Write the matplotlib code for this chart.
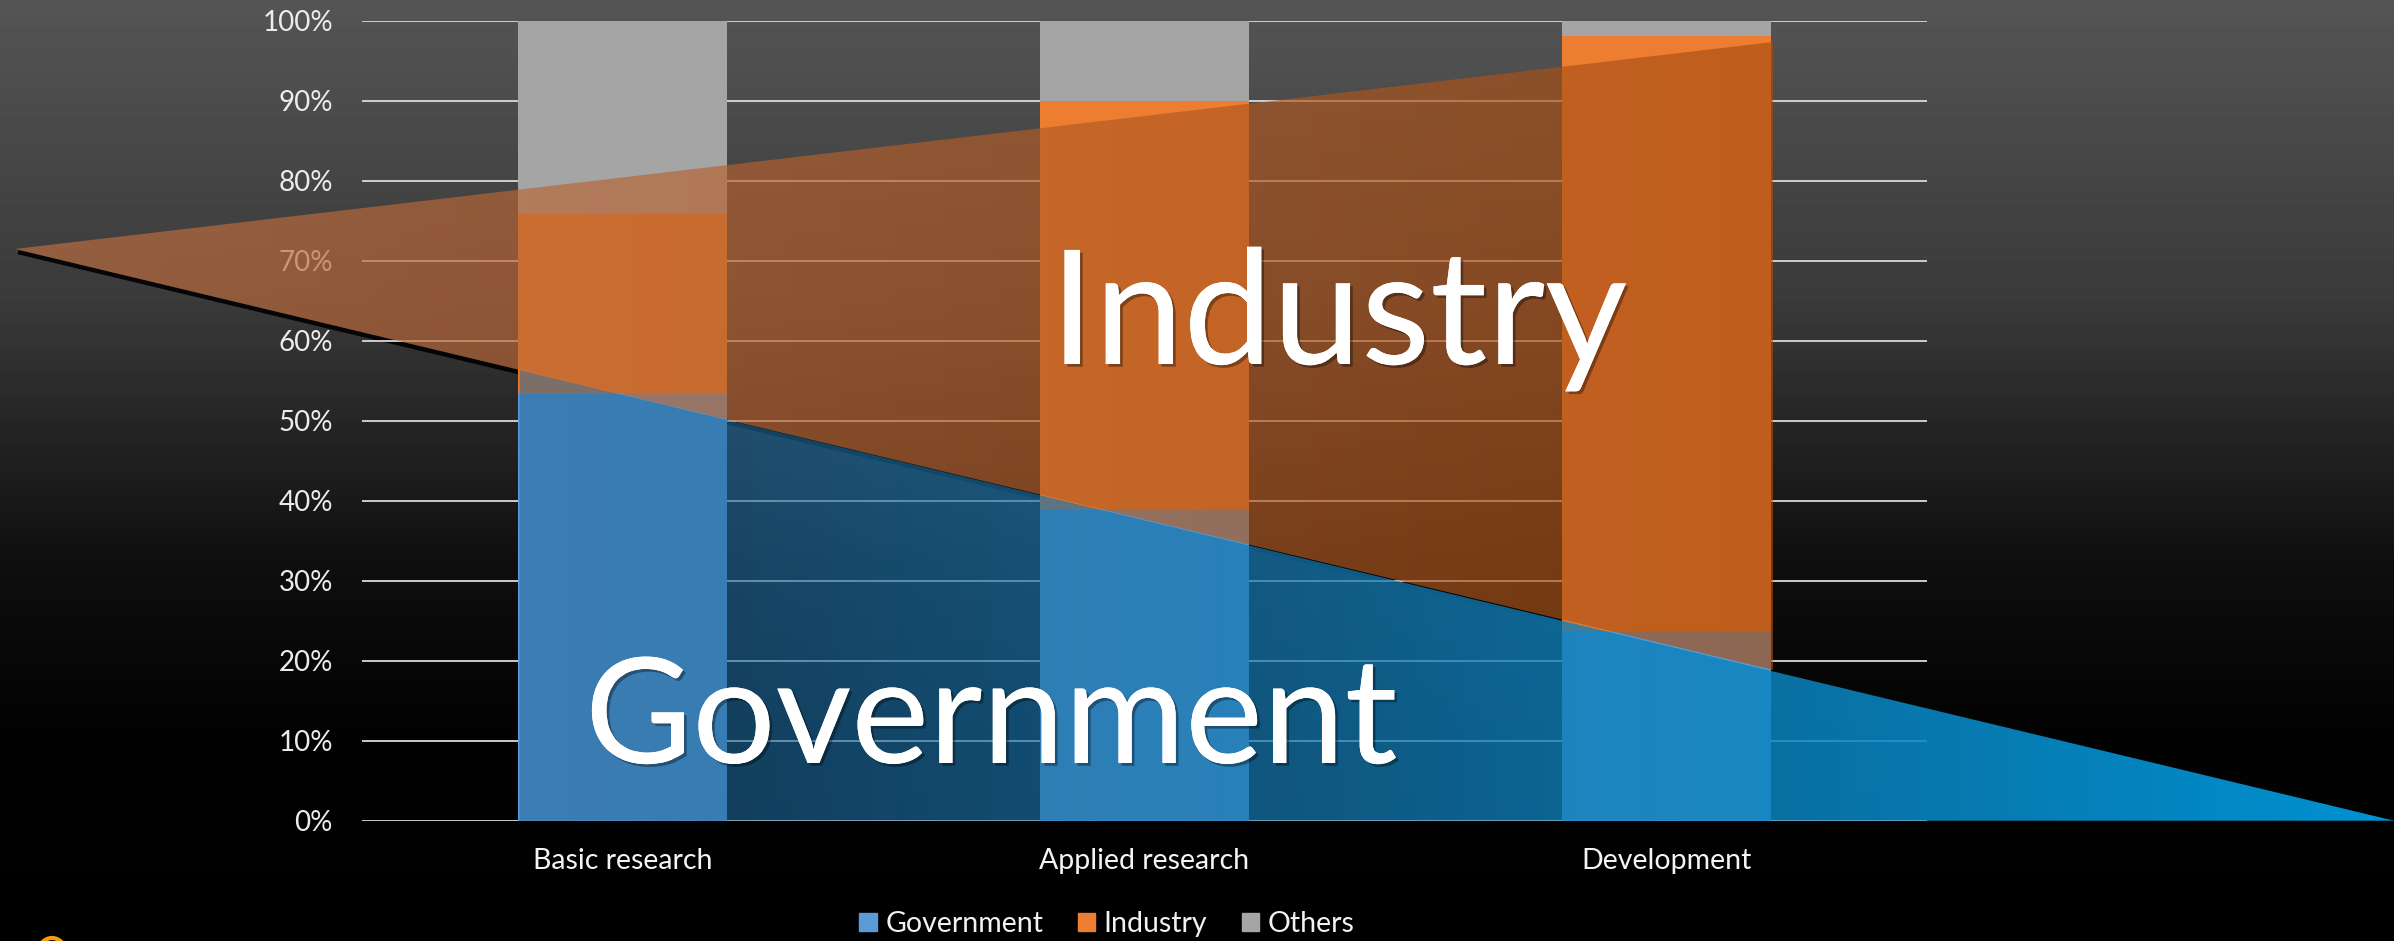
import numpy as np
import matplotlib
matplotlib.use('Agg')
import matplotlib.pyplot as plt
from matplotlib.patches import Rectangle, Circle
import matplotlib.patheffects as pe

# ---------------- data ----------------
categories = ['Basic research', 'Applied research', 'Development']
government = [53.3, 38.8, 23.7]
industry = [22.5, 51.2, 74.4]
others = [24.2, 10.0, 1.9]
series_names = ['Government', 'Industry', 'Others']
ytick_values = [0, 10, 20, 30, 40, 50, 60, 70, 80, 90, 100]
ytick_labels = ['0%', '10%', '20%', '30%', '40%', '50%', '60%', '70%', '80%', '90%', '100%']
overlay_words = ['Industry', 'Government']

# ---------------- style ----------------
plt.rcParams['font.family'] = ['Lato', 'DejaVu Sans']
C_GOV, C_IND, C_OTH = '#5B9BD5', '#ED7D31', '#A5A5A5'

W, H = 2394, 941
fig = plt.figure(figsize=(W / 100, H / 100), dpi=100, facecolor='black')

# background gradient (pixel coordinates)
bgax = fig.add_axes([0, 0, 1, 1], zorder=0)
bgax.set_xlim(0, W); bgax.set_ylim(H, 0); bgax.axis('off')
rows = np.arange(H)
v = np.interp(rows, [0, 300, 560, 720, H], [85, 58, 15, 3, 0]) / 255.0
bg = np.repeat(v[:, None], 4, axis=1)
bgax.imshow(bg, extent=[0, W, H, 0], cmap='gray', vmin=0, vmax=1, aspect='auto', zorder=0)
# drop shadow under the orange wedge (behind the bars)
bgax.plot([18, 1773], [252, 673], color='black', lw=3.2, alpha=0.9, zorder=2, solid_capstyle='butt')
# small logo fragment bottom-left
bgax.add_patch(Circle((52, 951), 13, fill=False, edgecolor='#F39C12', lw=3, zorder=3))

# main chart axes
y0 = 820.7
ax = fig.add_axes([362 / W, (H - y0) / H, (1927 - 362) / W, 800 / H], zorder=1)
ax.patch.set_alpha(0)
x = np.arange(len(categories))
gov = np.array(government); ind = np.array(industry); oth = np.array(others)
ax.bar(x, gov, 0.4, color=C_GOV, zorder=3, label=series_names[0])
ax.bar(x, ind, 0.4, bottom=gov, color=C_IND, zorder=3, label=series_names[1])
ax.bar(x, oth, 0.4, bottom=gov + ind, color=C_OTH, zorder=3, label=series_names[2])
ax.set_xlim(-0.5, 2.5); ax.set_ylim(0, 100)
ax.set_yticks(ytick_values); ax.set_yticklabels(ytick_labels)
ax.set_xticks(x); ax.set_xticklabels(categories)
ax.yaxis.grid(True, color='#d9d9d9', lw=1.3, zorder=0)
ax.set_axisbelow(True)
for s in ax.spines.values():
    s.set_visible(False)
ax.tick_params(axis='y', length=0, pad=21, labelsize=20, labelcolor='#ececec')
ax.tick_params(axis='x', length=0, pad=20, labelsize=20.5, labelcolor='#f4f4f4')

# overlay wedges (decorative, pixel coordinates)
ov = fig.add_axes([0, 0, 1, 1], zorder=2)
ov.set_xlim(0, W); ov.set_ylim(H, 0); ov.axis('off'); ov.patch.set_alpha(0)
yy, xx = np.mgrid[0:H, 0:W].astype(float) + 0.5

def tri_cov(pts):
    pts = np.asarray(pts, float)
    a, b, c = pts
    s = np.sign((b[0] - a[0]) * (c[1] - a[1]) - (b[1] - a[1]) * (c[0] - a[0]))
    cov = np.ones_like(xx)
    for i in range(3):
        p, q = pts[i], pts[(i + 1) % 3]
        dx, dy = q - p
        d = s * (dx * (yy - p[1]) - dy * (xx - p[0])) / np.hypot(dx, dy)
        cov = np.minimum(cov, np.clip(d + 0.5, 0, 1))
    return cov

cov_o = tri_cov([(15, 249), (1773, 42), (1773, 670)])
to = np.clip((xx - 15) / 1758.0, 0, 1)[..., None]
col_o = (np.array([192, 112, 68]) + (np.array([168, 78, 18]) - np.array([192, 112, 68])) * to) / 255.0
a_o = 0.67 * cov_o

bl = 519.5
cov_b = tri_cov([(bl, 370), (2394, y0), (bl, y0)])
tb = np.clip((xx - bl) / (2394 - bl), 0, 1)
col_b = (np.array([35, 100, 150]) + (np.array([0, 148, 212]) - np.array([35, 100, 150])) * tb[..., None]) / 255.0
a_b = (0.55 + 0.45 * tb) * cov_b

a_t = a_o + a_b * (1 - a_o)
num = col_o * a_o[..., None] + col_b * (a_b * (1 - a_o))[..., None]
rgb = np.where(a_t[..., None] > 0, num / np.maximum(a_t[..., None], 1e-9), 0)
rgba = np.dstack([rgb, a_t])
ov.imshow(rgba, extent=[0, W, H, 0], interpolation='nearest', aspect='auto', zorder=1)

# big words
shadow = [pe.withSimplePatchShadow(offset=(2, -2), shadow_rgbFace='black', alpha=0.35), pe.Normal()]
targets = [(overlay_words[0], 1050, 364, 577), (overlay_words[1], 585, 763, 812)]
texts = []
for word, lx, by, tw in targets:
    t = ov.text(lx, by, word, fontsize=110, color='white', ha='left', va='baseline',
                zorder=5, path_effects=shadow)
    texts.append((t, lx, by, tw))
fig.canvas.draw()
r = fig.canvas.get_renderer()
for t, lx, by, tw in texts:
    bb = t.get_window_extent(r)
    t.set_fontsize(t.get_fontsize() * tw / bb.width)
fig.canvas.draw()
for t, lx, by, tw in texts:
    bb = t.get_window_extent(r)
    t.set_x(lx - (bb.x0 - lx))

# legend
handles = [Rectangle((0, 0), 1, 1, color=c) for c in (C_GOV, C_IND, C_OTH)]
fig.legend(handles, series_names, loc='center', bbox_to_anchor=(1107 / W, 1 - 924 / H),
           ncol=3, frameon=False, fontsize=20.5, handlelength=0.62, handleheight=0.62,
           handletextpad=0.3, columnspacing=1.2, labelcolor='#f2f2f2', borderaxespad=0)

fig.savefig('out.png', dpi=100, facecolor='black')
